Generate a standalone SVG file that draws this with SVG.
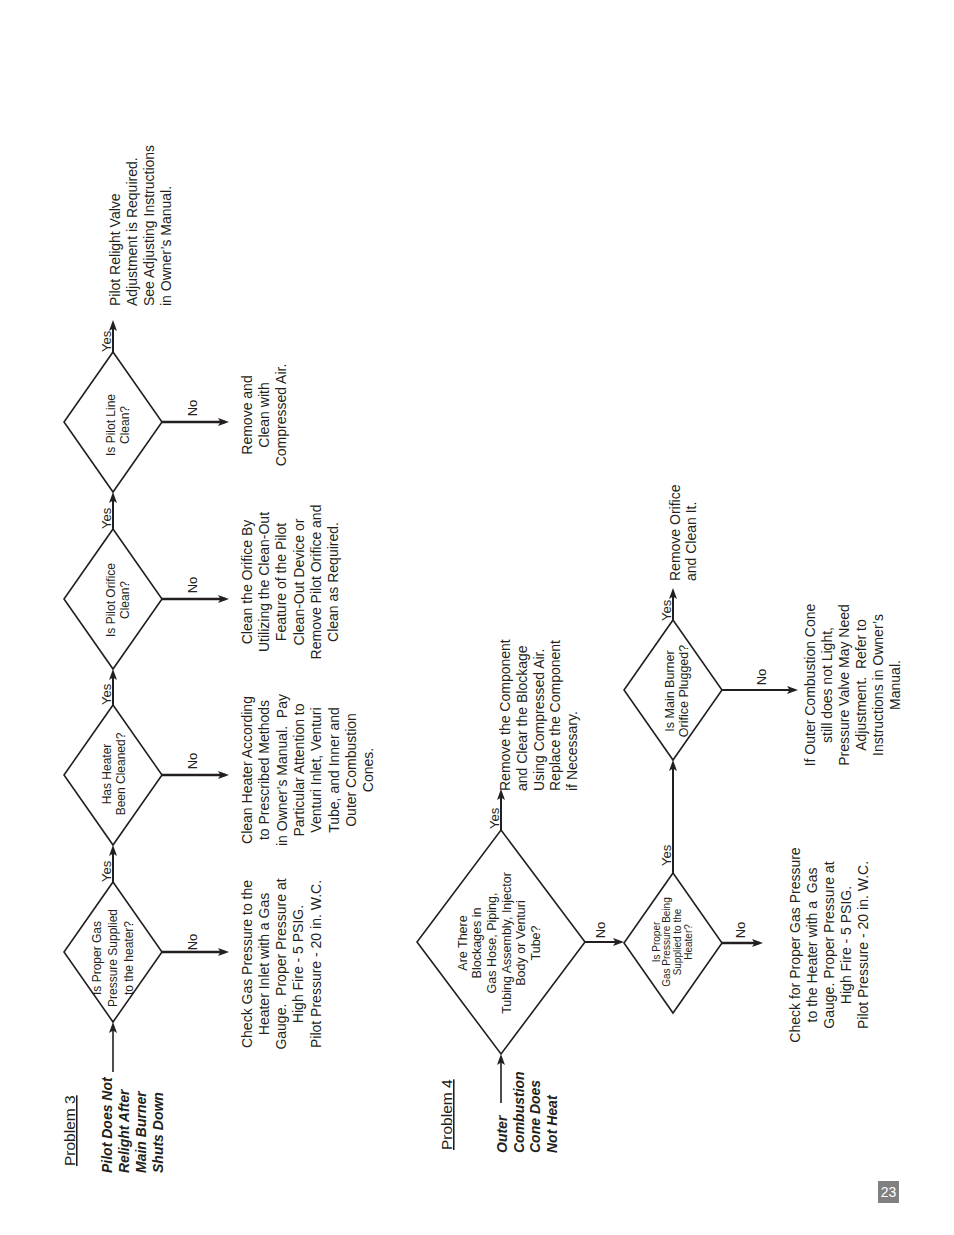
<svg xmlns="http://www.w3.org/2000/svg" width="954" height="1235" viewBox="0 0 954 1235">
<style>
text{font-family:"Liberation Sans",Arial,sans-serif;fill:#231f20}
.b{font-size:14px}
.q{font-size:12px}
.lbl{font-size:13px}
.hd{font-size:15.5px;text-decoration:underline}
.it{font-size:14px;font-weight:bold;font-style:italic}
.dia{fill:none;stroke:#231f20;stroke-width:1.6}
.c{stroke:#231f20;stroke-width:2;fill:none;marker-end:url(#ah)}
.cn{stroke:#231f20;stroke-width:2.6;fill:none;marker-end:url(#ah)}
</style>
<defs>
<marker id="ah" markerUnits="userSpaceOnUse" markerWidth="14" markerHeight="10" refX="7" refY="4" orient="auto">
<path d="M0,0 L11,4 L0,8 L2.5,4 Z" fill="#231f20"/>
</marker>
</defs>
<rect width="954" height="1235" fill="#fff"/>

<!-- Problem 3 labels -->
<g id="problem3">
<text class="hd" transform="translate(75,1166) rotate(-90)">Problem 3</text>
<text class="it" transform="translate(112,1173) rotate(-90)"><tspan x="0" dy="0">Pilot Does Not</tspan><tspan x="0" dy="17">Relight After</tspan><tspan x="0" dy="17">Main Burner</tspan><tspan x="0" dy="17">Shuts Down</tspan></text>
</g>

<g id="d1">
<path class="dia" d="M113,882 L162,952 L113,1022 L64,952 Z"/>
<text class="q" text-anchor="middle" transform="translate(101,958) rotate(-90)"><tspan x="0" dy="0">Is Proper Gas</tspan><tspan x="0" dy="16">Pressure Supplied</tspan><tspan x="0" dy="16">to the heater?</tspan></text>
</g>
<g id="d2">
<path class="dia" d="M113,705 L162,775 L113,845 L64,775 Z"/>
<text class="q" text-anchor="middle" transform="translate(111,774) rotate(-90)"><tspan x="0" dy="0">Has Heater</tspan><tspan x="0" dy="13.5">Been Cleaned?</tspan></text>
</g>
<g id="d3">
<path class="dia" d="M113,529 L162,599 L113,669 L64,599 Z"/>
<text class="q" text-anchor="middle" transform="translate(115,600) rotate(-90)"><tspan x="0" dy="0">Is Pilot Orifice</tspan><tspan x="0" dy="13.5">Clean?</tspan></text>
</g>
<g id="d4">
<path class="dia" d="M113,352 L162,422 L113,492 L64,422 Z"/>
<text class="q" text-anchor="middle" transform="translate(115,425) rotate(-90)"><tspan x="0" dy="0">Is Pilot Line</tspan><tspan x="0" dy="13.5">Clean?</tspan></text>
</g>

<g id="r1">
<text class="b" text-anchor="middle" xml:space="preserve" transform="translate(252,964) rotate(-90)"><tspan x="0" dy="0">Check Gas Pressure to the</tspan><tspan x="0" dy="17">Heater Inlet with a Gas</tspan><tspan x="0" dy="17">Gauge.  Proper Pressure at</tspan><tspan x="0" dy="17">High Fire - 5 PSIG.</tspan><tspan x="0" dy="18">Pilot Pressure - 20 in. W.C.</tspan></text>
</g>
<g id="r2">
<text class="b" text-anchor="middle" xml:space="preserve" transform="translate(252,770) rotate(-90)"><tspan x="0" dy="0">Clean Heater According</tspan><tspan x="0" dy="17.3">to Prescribed Methods</tspan><tspan x="0" dy="17.3">in Owner’s Manual.  Pay</tspan><tspan x="0" dy="17.3">Particular Attention to</tspan><tspan x="0" dy="17.3">Venturi Inlet, Venturi</tspan><tspan x="0" dy="17.3">Tube, and Inner and</tspan><tspan x="0" dy="17.3">Outer Combustion</tspan><tspan x="0" dy="17.3">Cones.</tspan></text>
</g>
<g id="r3">
<text class="b" text-anchor="middle" transform="translate(252,582) rotate(-90)"><tspan x="0" dy="0">Clean the Orifice By</tspan><tspan x="0" dy="17.2">Utilizing the Clean-Out</tspan><tspan x="0" dy="17.2">Feature of the Pilot</tspan><tspan x="0" dy="17.2">Clean-Out Device or</tspan><tspan x="0" dy="17.2">Remove Pilot Orifice and</tspan><tspan x="0" dy="17.2">Clean as Required.</tspan></text>
</g>
<g id="r4">
<text class="b" text-anchor="middle" transform="translate(252,415) rotate(-90)"><tspan x="0" dy="0">Remove and</tspan><tspan x="0" dy="17.2">Clean with</tspan><tspan x="0" dy="17.2">Compressed Air.</tspan></text>
</g>
<g id="r5">
<text class="b" transform="translate(120,306) rotate(-90)"><tspan x="0" dy="0">Pilot Relight Valve</tspan><tspan x="0" dy="17">Adjustment is Required.</tspan><tspan x="0" dy="17">See Adjusting Instructions</tspan><tspan x="0" dy="17">in Owner’s Manual.</tspan></text>
</g>

<!-- Problem 4 -->
<g id="problem4">
<text class="hd" transform="translate(452,1150) rotate(-90)">Problem 4</text>
<text class="it" transform="translate(507,1153) rotate(-90)"><tspan x="0" dy="0">Outer</tspan><tspan x="0" dy="16.7">Combustion</tspan><tspan x="0" dy="16.7">Cone Does</tspan><tspan x="0" dy="16.7">Not Heat</tspan></text>
</g>
<g id="d5">
<path class="dia" d="M501,830 L585,942 L501,1054 L417,942 Z"/>
<text style="font-size:12.5px" text-anchor="middle" transform="translate(466.5,943) rotate(-90)"><tspan x="0" dy="0">Are There</tspan><tspan x="0" dy="14.7">Blockages in</tspan><tspan x="0" dy="14.7">Gas Hose, Piping,</tspan><tspan x="0" dy="14.7">Tubing Assembly, Injector</tspan><tspan x="0" dy="14.7">Body or Venturi</tspan><tspan x="0" dy="14.7">Tube?</tspan></text>
</g>
<g id="d6">
<path class="dia" d="M673,873 L722,943 L673,1013 L624,943 Z"/>
<text style="font-size:10px" text-anchor="middle" transform="translate(659.5,942) rotate(-90)"><tspan x="0" dy="0">Is Proper</tspan><tspan x="0" dy="10.8">Gas Pressure Being</tspan><tspan x="0" dy="10.8">Supplied to the</tspan><tspan x="0" dy="10.8">Heater?</tspan></text>
</g>
<g id="d7">
<path class="dia" d="M673,620 L722,690 L673,760 L624,690 Z"/>
<text style="font-size:12.5px" text-anchor="middle" transform="translate(674,691) rotate(-90)"><tspan x="0" dy="0">Is Main Burner</tspan><tspan x="0" dy="13.5">Orifice Plugged?</tspan></text>
</g>
<g id="r6">
<text class="b" transform="translate(510,791) rotate(-90)"><tspan x="0" dy="0">Remove the Component</tspan><tspan x="0" dy="16.8">and Clear the Blockage</tspan><tspan x="0" dy="16.8">Using Compressed Air.</tspan><tspan x="0" dy="16.8">Replace the Component</tspan><tspan x="0" dy="16.8">if Necessary.</tspan></text>
</g>
<g id="r7">
<text class="b" text-anchor="middle" xml:space="preserve" transform="translate(800,945) rotate(-90)"><tspan x="0" dy="0">Check for Proper Gas Pressure</tspan><tspan x="0" dy="17">to the Heater with a  Gas</tspan><tspan x="0" dy="17">Gauge. Proper Pressure at</tspan><tspan x="0" dy="17">High Fire - 5 PSIG.</tspan><tspan x="0" dy="17">Pilot Pressure - 20 in. W.C.</tspan></text>
</g>
<g id="r8">
<text class="b" transform="translate(680,581) rotate(-90)"><tspan x="0" dy="0">Remove Orifice</tspan><tspan x="0" dy="16">and Clean It.</tspan></text>
</g>
<g id="r9">
<text class="b" text-anchor="middle" xml:space="preserve" transform="translate(815,685) rotate(-90)"><tspan x="0" dy="0">If Outer Combustion Cone</tspan><tspan x="0" dy="17">still does not Light,</tspan><tspan x="0" dy="17">Pressure Valve May Need</tspan><tspan x="0" dy="17">Adjustment.  Refer to</tspan><tspan x="0" dy="17">Instructions in Owner’s</tspan><tspan x="0" dy="17">Manual.</tspan></text>
</g>

<g id="connectors">
<path class="c" style="stroke-width:1.6" d="M113,1072 V1026"/>
<path class="c" d="M113,882 V849"/>
<path class="c" d="M113,705 V673"/>
<path class="c" d="M113,529 V496"/>
<path class="c" d="M113,352 V324"/>
<path class="cn" d="M162,952 H225"/>
<path class="cn" d="M162,775 H225"/>
<path class="cn" d="M162,599 H225"/>
<path class="cn" d="M162,422 H225"/>
<path class="c" style="stroke-width:1.6" d="M501,1103 V1058"/>
<path class="c" d="M501,830 V793"/>
<path class="c" d="M585,942 H620"/>
<path class="c" d="M673,873 V764"/>
<path class="cn" d="M722,943 H759"/>
<path class="c" d="M673,620 V592"/>
<path class="c" d="M722,690 H794"/>
<g class="lbl">
<text class="lbl" transform="translate(111,882) rotate(-90)">Yes</text>
<text class="lbl" transform="translate(111,705) rotate(-90)">Yes</text>
<text class="lbl" transform="translate(111,529) rotate(-90)">Yes</text>
<text class="lbl" transform="translate(111,352) rotate(-90)">Yes</text>
<text class="lbl" text-anchor="middle" transform="translate(197,942) rotate(-90)">No</text>
<text class="lbl" text-anchor="middle" transform="translate(197,761) rotate(-90)">No</text>
<text class="lbl" text-anchor="middle" transform="translate(197,585) rotate(-90)">No</text>
<text class="lbl" text-anchor="middle" transform="translate(197,408) rotate(-90)">No</text>
<text class="lbl" transform="translate(499,829) rotate(-90)">Yes</text>
<text class="lbl" text-anchor="middle" transform="translate(605,930) rotate(-90)">No</text>
<text class="lbl" transform="translate(671,866) rotate(-90)">Yes</text>
<text class="lbl" text-anchor="middle" transform="translate(745,930) rotate(-90)">No</text>
<text class="lbl" transform="translate(671,621) rotate(-90)">Yes</text>
<text class="lbl" text-anchor="middle" transform="translate(766,677) rotate(-90)">No</text>
</g>
</g>

<g id="page">
<rect x="878" y="1181" width="21" height="22" fill="#808080"/>
<text x="888.5" y="1197" text-anchor="middle" style="font-size:14px;fill:#fff">23</text>
</g>
</svg>
